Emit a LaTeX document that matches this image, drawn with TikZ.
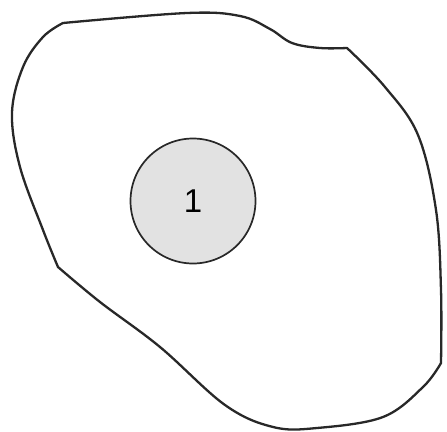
\documentclass[tikz,border=0pt]{standalone}
\usepackage{fontspec}
\setmainfont{Liberation Sans}
\definecolor{nucfill}{RGB}{226,226,226}
\definecolor{inkline}{RGB}{40,40,40}
\begin{document}
\begin{tikzpicture}[x=1pt,y=-1pt,
  blobline/.style={draw=inkline,line width=2.3pt,line join=round},
  nucleus/.style={circle,draw=inkline,line width=1.7pt,fill=nucfill,minimum size=125pt,inner sep=0pt,font=\fontsize{33}{33}\selectfont}]
\useasboundingbox (0,0) rectangle (447,431);
\draw[blobline]
  plot[smooth,tension=0.6] coordinates {(63,23) (187,13) (240,16) (270,29) (292,43) (320,48) (347,48)}
  -- plot[smooth,tension=0.6] coordinates {(347,48) (385,87) (418,135) (436,210) (441,290) (441,363)}
  -- plot[smooth,tension=0.6] coordinates {(441,363) (423,387) (383,417) (317,428) (273,427) (225,405) (160,347) (100,302) (58,267)}
  -- plot[smooth,tension=0.6] coordinates {(58,267) (43,230) (20,167) (12,113) (23,67) (43,37) (63,23)}
  -- cycle;
\node[nucleus] (n1) at (193,201) {1};
\end{tikzpicture}
\end{document}
